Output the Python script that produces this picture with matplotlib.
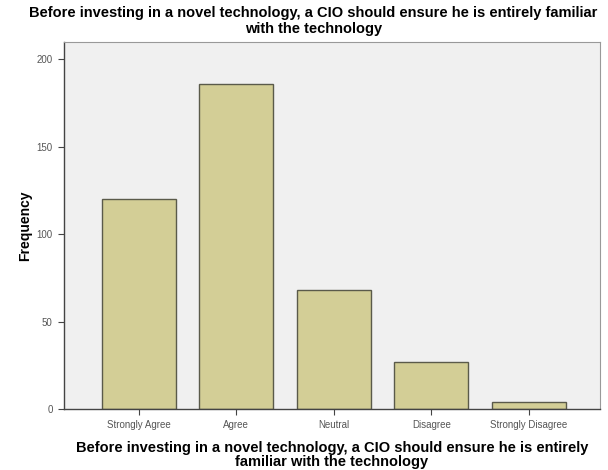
import matplotlib.pyplot as plt

categories = ['Strongly Agree', 'Agree', 'Neutral', 'Disagree', 'Strongly Disagree']
counts = [120, 186, 68, 27, 4]
yticks = [0, 50, 100, 150, 200]

title = 'Before investing in a novel technology, a CIO should ensure he is entirely familiar\nwith the technology'
xlabel = 'Before investing in a novel technology, a CIO should ensure he is entirely\nfamiliar with the technology'

plt.rcParams['font.family'] = ['Liberation Sans', 'DejaVu Sans']

fig = plt.figure(figsize=(6.08, 4.70), dpi=100)
ax = fig.add_axes([0.105, 0.13, 0.882, 0.781])
ax.set_facecolor('#f0f0f0')

x = list(range(len(categories)))
ax.bar(x, counts, width=0.76, color='#d3ce96', edgecolor='#5a5a4a', linewidth=1.0, zorder=2)

ax.set_xlim(-0.77, 4.73)
ax.set_ylim(0, 210)
ax.set_xticks(x)
ax.set_xticklabels(categories, fontsize=7, color='#555555')
ax.set_yticks(yticks)
ax.set_yticklabels([str(v) for v in yticks], fontsize=7, color='#555555')
ax.tick_params(axis='both', direction='out', length=4, width=0.8, color='#444444', pad=4)

for side in ['top', 'right']:
    ax.spines[side].set_color('#999999')
for side in ['left', 'bottom']:
    ax.spines[side].set_color('#444444')
    ax.spines[side].set_linewidth(1.0)

fig.suptitle(title, fontsize=10.5, fontweight='bold', x=0.515, y=0.988, linespacing=1.2)
ax.set_xlabel(xlabel, fontsize=10.5, fontweight='bold', labelpad=8, linespacing=1.0)
ax.set_ylabel('Frequency', fontsize=10, fontweight='bold', labelpad=3)

fig.savefig('out.png', dpi=100)
